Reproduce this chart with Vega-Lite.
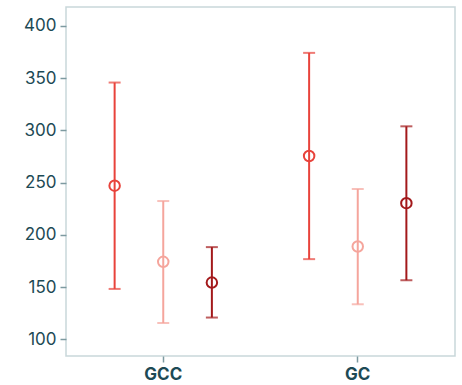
{
  "$schema": "https://vega.github.io/schema/vega-lite/v6.json",
  "width": 389,
  "height": 349,
  "autosize": {"type": "none"},
  "padding": {"left": 66, "right": 7, "top": 7, "bottom": 29},
  "config": {
    "view": {"stroke": "#c9d7da", "strokeWidth": 1.5},
    "font": "Inter",
    "axis": {"labelColor": "#1d4a55", "labelFontSize": 17, "tickColor": "#7d9aa0", "tickWidth": 1.5, "domain": false, "grid": false, "title": null}
  },
  "data": {
    "values": [
      {"group": "GCC", "series": "A", "mean": 247, "low": 148.2, "high": 345.7},
      {"group": "GCC", "series": "B", "mean": 174.1, "low": 115.6, "high": 232.3},
      {"group": "GCC", "series": "C", "mean": 154.3, "low": 120.8, "high": 188.2},
      {"group": "GC", "series": "A", "mean": 275.4, "low": 176.7, "high": 374.1},
      {"group": "GC", "series": "B", "mean": 188.8, "low": 133.5, "high": 243.8},
      {"group": "GC", "series": "C", "mean": 230.3, "low": 156.5, "high": 303.8}
    ]
  },
  "encoding": {
    "x": {"field": "group", "type": "nominal", "sort": ["GCC", "GC"], "scale": {"paddingInner": 0, "paddingOuter": 0},
      "axis": {"labelAngle": 0, "labelFontWeight": "bold", "labelFontSize": 17, "tickSize": 6, "labelPadding": 4}},
    "xOffset": {"field": "series", "type": "nominal", "sort": ["A", "B", "C"], "scale": {"paddingInner": 0, "paddingOuter": 0.5}},
    "color": {"field": "series", "type": "nominal", "legend": null,
      "scale": {"domain": ["A", "B", "C"], "range": ["#e8433b", "#f5a59c", "#a3191b"]}}
  },
  "layer": [
    {
      "mark": {"type": "rule", "strokeWidth": 2},
      "encoding": {
        "y": {"field": "low", "type": "quantitative", "scale": {"domain": [84, 418], "nice": false, "zero": false},
          "axis": {"values": [100, 150, 200, 250, 300, 350, 400], "tickSize": 6, "labelPadding": 4}},
        "y2": {"field": "high"}
      }
    },
    {
      "mark": {"type": "tick", "thickness": 2, "size": 12, "orient": "horizontal"},
      "encoding": {"y": {"field": "low", "type": "quantitative"}}
    },
    {
      "mark": {"type": "tick", "thickness": 2, "size": 12, "orient": "horizontal"},
      "encoding": {"y": {"field": "high", "type": "quantitative"}}
    },
    {
      "mark": {"type": "point", "filled": false, "fill": "white", "fillOpacity": 0, "strokeWidth": 2, "size": 110, "opacity": 1},
      "encoding": {"y": {"field": "mean", "type": "quantitative"}}
    }
  ]
}
